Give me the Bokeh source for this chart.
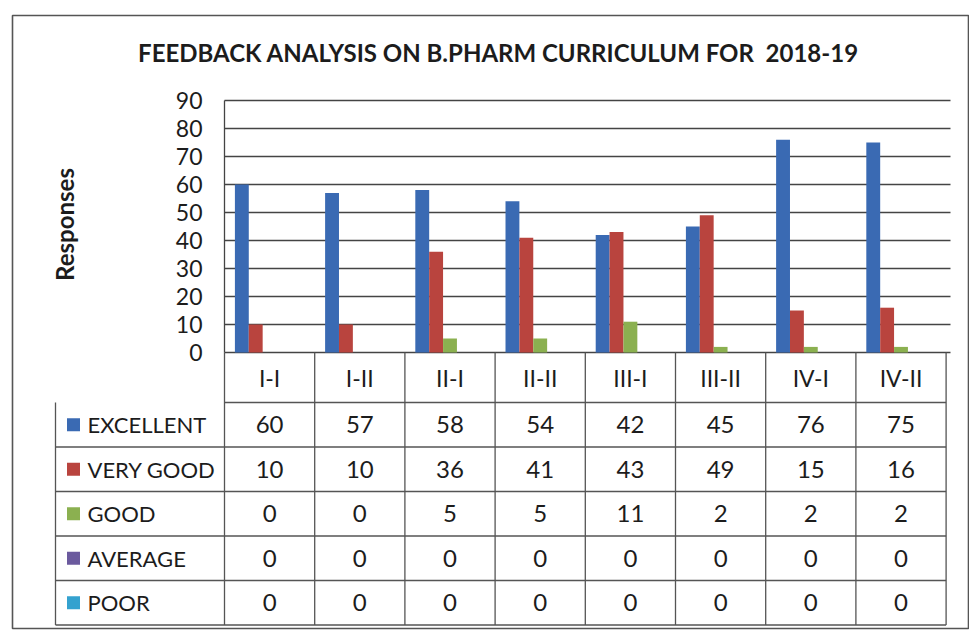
import math
from bokeh.plotting import figure
from bokeh.models import Range1d, LinearAxis, FixedTicker, ColumnDataSource
from bokeh.transform import dodge
from bokeh.core.properties import value
from bokeh.embed import file_html
from bokeh.resources import INLINE

# ---- data ----
categories = ["I-I", "I-II", "II-I", "II-II", "III-I", "III-II", "IV-I", "IV-II"]
series_names = ["EXCELLENT", "VERY GOOD", "GOOD", "AVERAGE", "POOR"]
excellent = [60, 57, 58, 54, 42, 45, 76, 75]
very_good = [10, 10, 36, 41, 43, 49, 15, 16]
good = [0, 0, 5, 5, 11, 2, 2, 2]
average = [0, 0, 0, 0, 0, 0, 0, 0]
poor = [0, 0, 0, 0, 0, 0, 0, 0]
y_ticks = [0, 10, 20, 30, 40, 50, 60, 70, 80, 90]
title_text = "FEEDBACK ANALYSIS ON B.PHARM CURRICULUM FOR\u00a0 2018-19"
y_label = "Responses"

series_values = [excellent, very_good, good, average, poor]
colors = ["#3A6AB3", "#B9443E", "#8BB050", "#6B5A9E", "#34A2CF"]

# ---- layout calibration (picture pixels -> data) ----
OFF = 0
PX_X0, PX_CAT = 224.0, 90.2       # x of first category edge, px per category
PX_Y0, PX_UNIT = 352.0, 2.8       # y of value 0, px per value unit
W, H = 969, 634
ML, MR, MT, MB = 12, 0, 15, 6

def dx(px):
    return (px - PX_X0) / PX_CAT

def dy(py):
    return (PX_Y0 - py) / PX_UNIT

frame_w = W - ML - MR
frame_h = H - MT - MB
x0 = dx(OFF + ML)
x1 = x0 + frame_w / PX_CAT
y1 = dy(OFF + MT)
y0 = y1 - frame_h / PX_UNIT

p = figure(width=W, height=H, x_range=Range1d(x0, x1), y_range=Range1d(y0, y1),
           x_axis_location=None, y_axis_location=None, toolbar_location=None,
           output_backend="svg", min_border_left=ML, min_border_right=MR,
           min_border_top=MT, min_border_bottom=MB)
p.xgrid.visible = False
p.ygrid.visible = False
p.outline_line_color = "#555555"
p.outline_line_width = 1.6
p.background_fill_color = "white"
p.border_fill_color = "white"

FONT = "Lato"
TXT = "#1c1c1c"
n = len(categories)

# gridlines
grid_right = dx(950)
p.segment(x0=[0] * len(y_ticks), x1=[grid_right] * len(y_ticks), y0=y_ticks, y1=y_ticks,
          line_color="#444444", line_width=1.3)

# bars
bar_w = 1.0 / 6.5
src = ColumnDataSource(dict(x=[i + 0.5 for i in range(n)],
                            **{f"s{k}": v for k, v in enumerate(series_values)}))
for k, name in enumerate(series_names):
    p.vbar(x=dodge("x", (k - 2) * bar_w, range=p.x_range), top=f"s{k}", bottom=0,
           width=bar_w, source=src, fill_color=colors[k], line_color=None)

# y axis
ax = LinearAxis(ticker=FixedTicker(ticks=y_ticks), fixed_location=0, bounds=(0, 90))
ax.axis_line_color = "#444444"
ax.axis_line_width = 1.3
ax.major_tick_out = 0
ax.major_tick_in = 0
ax.minor_tick_out = 0
ax.minor_tick_in = 0
ax.major_label_standoff = 22
ax.major_label_text_font = FONT
ax.major_label_text_font_size = "23px"
ax.major_label_text_color = TXT
p.add_layout(ax, "left")

# ---- data table ----
row_edges = [dy(402 + 44.5 * r) for r in range(6)]   # header bottom .. table bottom
left_edge = dx(55)
table_right = float(n)
line_kw = dict(line_color="#555555", line_width=1.3)
p.segment(x0=[0] + [left_edge] * 5, x1=[table_right] * 6, y0=row_edges, y1=row_edges, **line_kw)
p.segment(x0=list(range(n + 1)), x1=list(range(n + 1)), y0=[0] * (n + 1),
          y1=[row_edges[-1]] * (n + 1), **line_kw)
p.segment(x0=[left_edge], x1=[left_edge], y0=[row_edges[0]], y1=[row_edges[-1]], **line_kw)

p.text(x=[i + 0.5 for i in range(n)], y=[row_edges[0] / 2] * n, text=categories,
       text_font=value(FONT), text_font_size="23px", text_color=TXT,
       text_align="center", text_baseline="middle")

row_centers = [(row_edges[r] + row_edges[r + 1]) / 2 for r in range(5)]
for r, (name, vals) in enumerate(zip(series_names, series_values)):
    p.scatter(x=[dx(73)], y=[row_centers[r]], marker="square", size=13,
              fill_color=colors[r], line_color=None)
    p.text(x=[dx(87)], y=[row_centers[r]], text=[name], text_font=value(FONT),
           text_font_size="22px", text_color=TXT, text_align="left", text_baseline="middle")
    p.text(x=[i + 0.5 for i in range(n)], y=[row_centers[r]] * n, text=[str(v) for v in vals],
           text_font=value(FONT), text_font_size="24px", text_color=TXT,
           text_align="center", text_baseline="middle")

p.text(x=[dx(498)], y=[dy(52)], text=[title_text], text_font=value(FONT),
       text_font_size="24px", text_font_style="bold", text_color=TXT,
       text_align="center", text_baseline="middle")
p.text(x=[dx(64)], y=[dy(224)], text=[y_label], text_font=value(FONT),
       text_font_size="24px", text_font_style="bold", text_color=TXT, angle=math.pi / 2,
       text_align="center", text_baseline="middle")

open("out.html", "w").write(file_html(p, INLINE))
